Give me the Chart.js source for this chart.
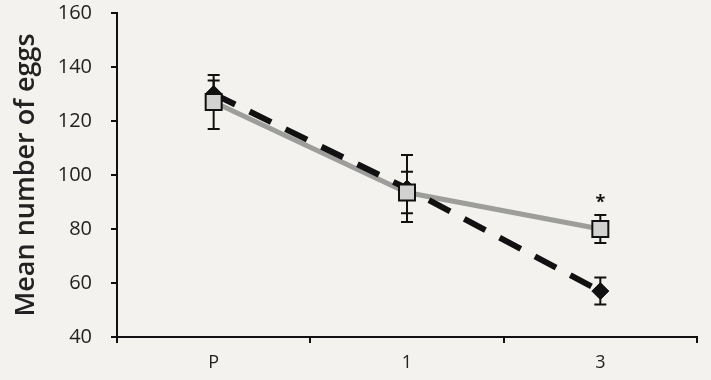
<!DOCTYPE html>
<html>
<head>
<meta charset="utf-8">
<script src="https://cdn.jsdelivr.net/npm/chart.js@4.4.0/dist/chart.umd.min.js"></script>
<style>
  html, body { margin: 0; padding: 0; background: #f3f2ee; overflow: hidden; }
</style>
</head>
<body>
<canvas id="chart" width="711" height="380"></canvas>
<script>
// categories on the x axis
const labels = ['P', '1', '3'];

// black dashed series (diamonds)
const diamondMean = [130, 95, 57];
const diamondErr = [5, 12.4, 5];

// grey solid series (squares)
const squareMean = [127, 93.5, 80];
const squareErr = [10, 7.7, 5.2];

// significance marks, one per category
const starMarks = ['', '', '*'];

// error bars + asterisks, drawn with the chart's own scales
const errorBars = {
	id: 'errorBars',
	beforeDatasetsDraw(chart){
		const ctx = chart.ctx;
		const y = chart.scales.y;
		const sets = [[1, diamondMean, diamondErr], [0, squareMean, squareErr]];
		ctx.save();
		ctx.strokeStyle = '#111';
		ctx.lineWidth = 2;
		sets.forEach(s => {
			const meta = chart.getDatasetMeta(s[0]);
			meta.data.forEach((pt, i) => {
				const top = y.getPixelForValue(s[1][i] + s[2][i]);
				const bot = y.getPixelForValue(s[1][i] - s[2][i]);
				ctx.beginPath();
				ctx.moveTo(pt.x, top); ctx.lineTo(pt.x, bot);
				ctx.moveTo(pt.x - 6, top); ctx.lineTo(pt.x + 6, top);
				ctx.moveTo(pt.x - 6, bot); ctx.lineTo(pt.x + 6, bot);
				ctx.stroke();
			});
		});
		ctx.restore();
	},
	afterDatasetsDraw(chart){
		const ctx = chart.ctx;
		const y = chart.scales.y;
		const meta = chart.getDatasetMeta(0);
		ctx.save();
		ctx.fillStyle = '#111';
		ctx.font = 'bold 18px "Open Sans"';
		ctx.textAlign = 'center';
		ctx.textBaseline = 'middle';
		meta.data.forEach((pt, i) => {
			if(starMarks[i]){
				ctx.fillText(starMarks[i], pt.x, y.getPixelForValue(squareMean[i] + squareErr[i]) - 12);
			}
		});
		ctx.restore();
	}
};

const ctx = document.querySelector('#chart');
const chart = new Chart(ctx, {
	type: 'line',
	data: {
		labels: labels,
		datasets: [{
			label: 'squares',
			data: squareMean,
			showLine: false,
			pointStyle: 'rect',
			pointRadius: 11.3,
			pointBackgroundColor: '#d2d2d0',
			pointBorderColor: '#111',
			pointBorderWidth: 2,
			order: 0
		},{
			label: 'diamonds',
			data: diamondMean,
			borderColor: '#111',
			borderWidth: 6,
			borderDash: [24, 16],
			pointStyle: 'rectRot',
			pointRadius: 8.5,
			pointBackgroundColor: '#111',
			pointBorderColor: '#111',
			pointBorderWidth: 1,
			order: 1
		},{
			label: 'grey line',
			data: squareMean,
			borderColor: '#9d9d9b',
			borderWidth: 5,
			pointRadius: 0,
			order: 2
		}]
	},
	options: {
		responsive: false,
		animation: false,
		layout: { autoPadding: false, padding: { top: 0, right: 14, bottom: 0, left: 0 } },
		plugins: { legend: { display: false }, tooltip: { enabled: false } },
		scales: {
			x: {
				offset: true,
				grid: { offset: true, drawOnChartArea: false, drawTicks: true, tickLength: 6, color: '#111', lineWidth: 2 },
				border: { color: '#111', width: 2 },
				ticks: { color: '#222', font: { family: 'Open Sans', size: 18, lineHeight: 1 }, padding: 11 },
				afterFit: s => { s.height = 43; }
			},
			y: {
				min: 40,
				max: 160,
				ticks: { stepSize: 20, color: '#222', font: { family: 'Open Sans', size: 20 }, padding: 19 },
				grid: { drawOnChartArea: false, drawTicks: true, tickLength: 6, color: '#111', lineWidth: 2 },
				border: { color: '#111', width: 2 },
				title: { display: true, text: 'Mean number of eggs', color: '#222', font: { family: 'Open Sans', size: 27, weight: '600' }, padding: { top: 10, bottom: 0 } },
				afterFit: s => { s.width = 117; s.paddingTop = 13; s.paddingBottom = 0; }
			}
		}
	},
	plugins: [errorBars]
});
</script>
</body>
</html>
